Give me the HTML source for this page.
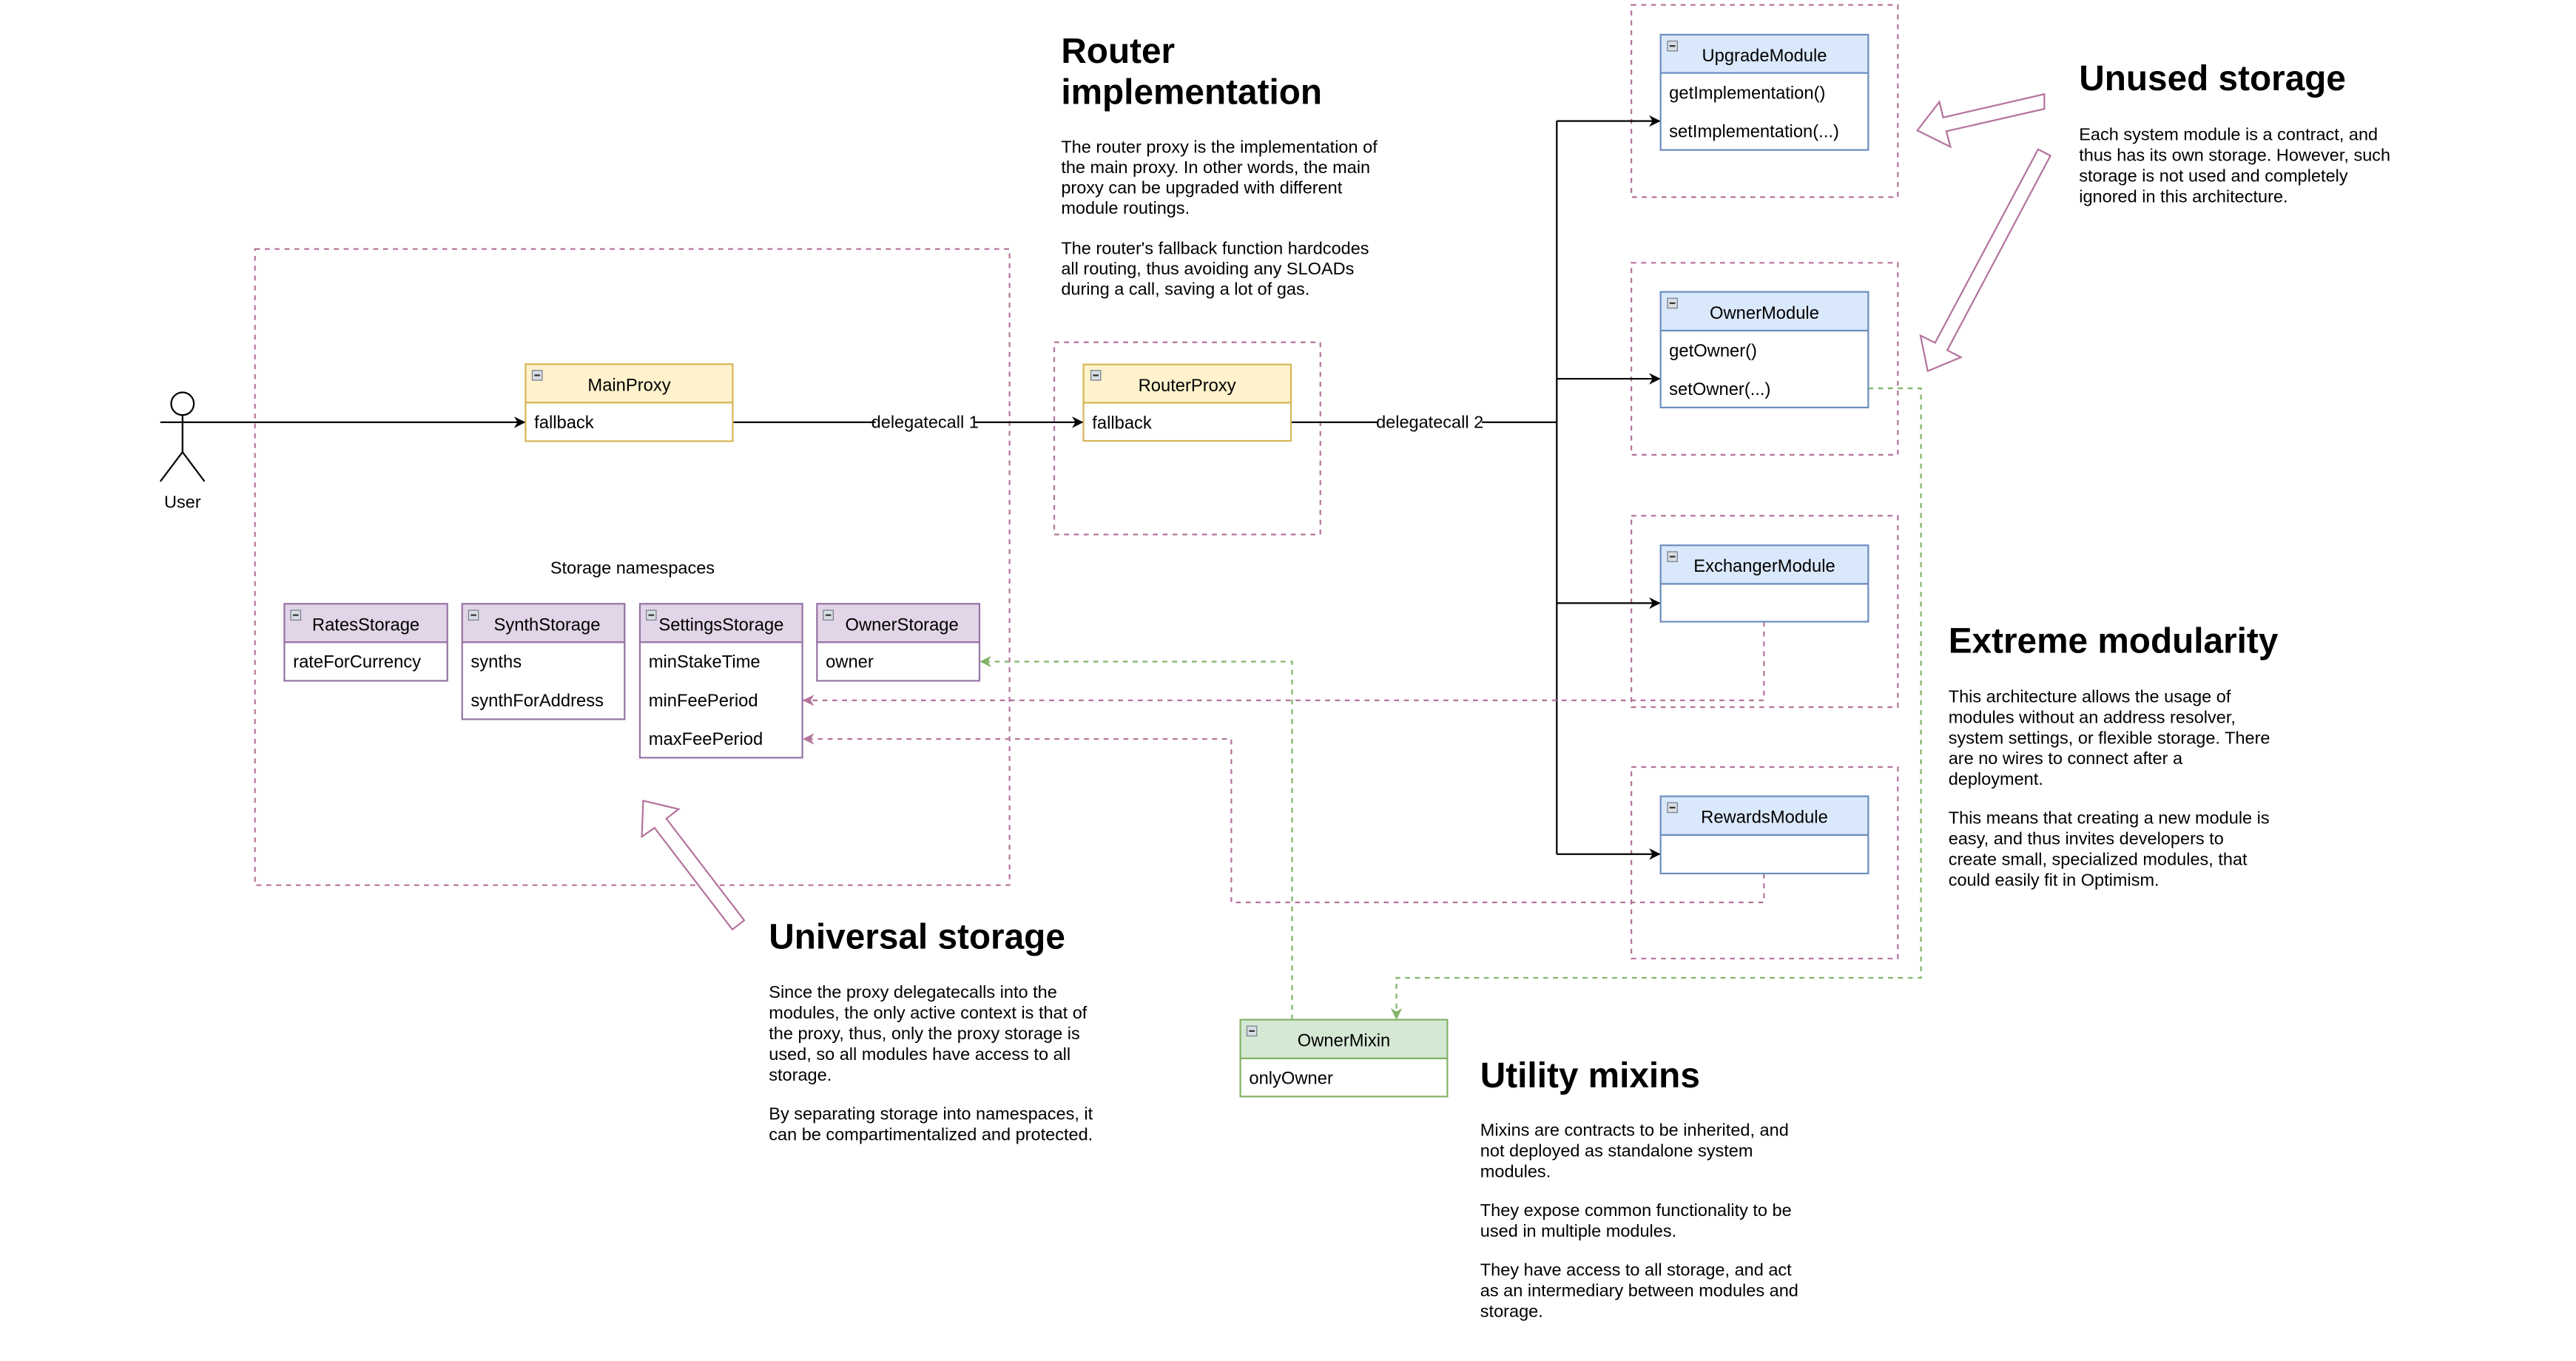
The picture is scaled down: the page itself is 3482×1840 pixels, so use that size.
<!DOCTYPE html>
<html><head><meta charset="utf-8"><style>
html,body{margin:0;padding:0;background:#fff;}
svg{display:block;}
text{font-family:"Liberation Sans",Arial,sans-serif;fill:#000;}
.t{font-size:10.7px;}
.c{text-anchor:middle;}
.p{font-size:10.6px;}
.h{font-size:21.5px;font-weight:bold;}
.dp{fill:none;stroke:#b5739d;stroke-width:1;stroke-dasharray:3 3;}
.dg{fill:none;stroke:#82b366;stroke-width:1;stroke-dasharray:3 3;}
.bl{fill:none;stroke:#000;stroke-width:1;}
</style></head><body>
<svg width="3482" height="1840" viewBox="0 0 1568 828.6" preserveAspectRatio="none" xmlns="http://www.w3.org/2000/svg">
<defs>
<marker id="ab" viewBox="0 0 10 10" refX="10" refY="5" markerWidth="7" markerHeight="7" markerUnits="userSpaceOnUse" orient="auto"><path d="M0,0 L10,5 L0,10 L3,5 Z" fill="#000"/></marker>
<marker id="ag" viewBox="0 0 10 10" refX="10" refY="5" markerWidth="7" markerHeight="7" markerUnits="userSpaceOnUse" orient="auto"><path d="M0,0 L10,5 L0,10 L3,5 Z" fill="#82b366"/></marker>
<marker id="ap" viewBox="0 0 10 10" refX="10" refY="5" markerWidth="7" markerHeight="7" markerUnits="userSpaceOnUse" orient="auto"><path d="M0,0 L10,5 L0,10 L3,5 Z" fill="#b5739d"/></marker>
<g id="ic"><rect x="0" y="0" width="6" height="6" fill="#d8dde3" stroke="#7d8590" stroke-width="0.6"/><line x1="1.3" y1="3" x2="4.7" y2="3" stroke="#333" stroke-width="1"/></g>
</defs>

<rect class="dp" x="155.2" y="151.6" width="459.3" height="387.3"/>
<rect class="dp" x="641.7" y="208.4" width="162" height="117"/>
<rect class="dp" x="993" y="3" width="162.2" height="117"/>
<rect class="dp" x="993" y="160" width="162.2" height="116.9"/>
<rect class="dp" x="993" y="314" width="162.2" height="116.5"/>
<rect class="dp" x="993" y="467" width="162.2" height="116.6"/>

<line class="bl" x1="97.6" y1="257.1" x2="319.9" y2="257.1" marker-end="url(#ab)"/>
<line class="bl" x1="446" y1="257.1" x2="659.5" y2="257.1" marker-end="url(#ab)"/>
<rect x="533" y="251" width="60" height="12" fill="#fff"/>
<text class="p c" x="563" y="260.5">delegatecall 1</text>
<polyline class="bl" points="785.8,257.1 947.6,257.1"/>
<rect x="839" y="251" width="63" height="12" fill="#fff"/>
<text class="p c" x="870.3" y="260.5">delegatecall 2</text>
<line class="bl" x1="947.6" y1="73.7" x2="947.6" y2="520"/>
<line class="bl" x1="947.6" y1="73.7" x2="1010.8" y2="73.7" marker-end="url(#ab)"/>
<line class="bl" x1="947.6" y1="230.6" x2="1010.8" y2="230.6" marker-end="url(#ab)"/>
<line class="bl" x1="947.6" y1="367.2" x2="1010.8" y2="367.2" marker-end="url(#ab)"/>
<line class="bl" x1="947.6" y1="520" x2="1010.8" y2="520" marker-end="url(#ab)"/>

<polyline class="dg" points="1137.2,236.4 1169.3,236.4 1169.3,595.3 850,595.3 850,620.8" marker-end="url(#ag)"/>
<polyline class="dg" points="786.5,620.8 786.5,402.8 596.4,402.8" marker-end="url(#ag)"/>
<polyline class="dp" points="1073.7,378.5 1073.7,426.4 488.6,426.4" marker-end="url(#ap)"/>
<polyline class="dp" points="1073.7,531.8 1073.7,549.4 749.5,549.4 749.5,449.9 488.6,449.9" marker-end="url(#ap)"/>

<circle cx="111.1" cy="245.8" r="6.9" fill="#fff" stroke="#000" stroke-width="1"/>
<line class="bl" x1="111.1" y1="252.7" x2="111.1" y2="275.2"/>
<line class="bl" x1="97.6" y1="293.1" x2="111.1" y2="275.2"/>
<line class="bl" x1="124.5" y1="293.1" x2="111.1" y2="275.2"/>
<text class="p c" x="111.1" y="309.2">User</text>

<rect x="319.9" y="221.7" width="126.1" height="23.4" fill="#fff2cc" stroke="#d6b656"/>
<rect x="319.9" y="245.1" width="126.1" height="23.5" fill="#fff" stroke="#d6b656"/>
<use href="#ic" x="324" y="225.5"/>
<text class="t c" x="383" y="238">MainProxy</text>
<text class="t" x="325.2" y="260.8">fallback</text>

<rect x="659.5" y="221.9" width="126.3" height="23.3" fill="#fff2cc" stroke="#d6b656"/>
<rect x="659.5" y="245.2" width="126.3" height="23.2" fill="#fff" stroke="#d6b656"/>
<use href="#ic" x="664" y="225.5"/>
<text class="t c" x="722.6" y="238.2">RouterProxy</text>
<text class="t" x="664.8" y="260.9">fallback</text>

<rect x="1010.8" y="21.1" width="126.4" height="23.3" fill="#dae8fc" stroke="#6c8ebf"/>
<rect x="1010.8" y="44.4" width="126.4" height="46.9" fill="#fff" stroke="#6c8ebf"/>
<use href="#ic" x="1015" y="25"/>
<text class="t c" x="1074" y="37.3">UpgradeModule</text>
<text class="t" x="1016" y="60.2">getImplementation()</text>
<text class="t" x="1016" y="83.6">setImplementation(...)</text>

<rect x="1010.8" y="177.7" width="126.4" height="23.6" fill="#dae8fc" stroke="#6c8ebf"/>
<rect x="1010.8" y="201.3" width="126.4" height="46.8" fill="#fff" stroke="#6c8ebf"/>
<use href="#ic" x="1015" y="181.6"/>
<text class="t c" x="1074" y="194">OwnerModule</text>
<text class="t" x="1016" y="217">getOwner()</text>
<text class="t" x="1016" y="240.4">setOwner(...)</text>

<rect x="1010.8" y="332" width="126.4" height="23.5" fill="#dae8fc" stroke="#6c8ebf"/>
<rect x="1010.8" y="355.5" width="126.4" height="23" fill="#fff" stroke="#6c8ebf"/>
<use href="#ic" x="1015" y="335.9"/>
<text class="t c" x="1074" y="348.2">ExchangerModule</text>

<rect x="1010.8" y="484.8" width="126.4" height="23.6" fill="#dae8fc" stroke="#6c8ebf"/>
<rect x="1010.8" y="508.4" width="126.4" height="23.4" fill="#fff" stroke="#6c8ebf"/>
<use href="#ic" x="1015" y="488.7"/>
<text class="t c" x="1074" y="501.1">RewardsModule</text>

<text class="p c" x="385" y="349.2">Storage namespaces</text>

<rect x="173.1" y="367.6" width="99.2" height="23.4" fill="#e1d5e7" stroke="#9673a6"/>
<rect x="173.1" y="391" width="99.2" height="23.5" fill="#fff" stroke="#9673a6"/>
<use href="#ic" x="177" y="371.5"/>
<text class="t c" x="222.7" y="384">RatesStorage</text>
<text class="t" x="178.4" y="406.5">rateForCurrency</text>

<rect x="281.3" y="367.6" width="98.9" height="23.4" fill="#e1d5e7" stroke="#9673a6"/>
<rect x="281.3" y="391" width="98.9" height="46.9" fill="#fff" stroke="#9673a6"/>
<use href="#ic" x="285.2" y="371.5"/>
<text class="t c" x="333" y="384">SynthStorage</text>
<text class="t" x="286.6" y="406.5">synths</text>
<text class="t" x="286.6" y="430">synthForAddress</text>

<rect x="389.5" y="367.6" width="98.9" height="23.4" fill="#e1d5e7" stroke="#9673a6"/>
<rect x="389.5" y="391" width="98.9" height="70.3" fill="#fff" stroke="#9673a6"/>
<use href="#ic" x="393.4" y="371.5"/>
<text class="t c" x="439" y="384">SettingsStorage</text>
<text class="t" x="394.8" y="406.5">minStakeTime</text>
<text class="t" x="394.8" y="430">minFeePeriod</text>
<text class="t" x="394.8" y="453.4">maxFeePeriod</text>

<rect x="497.3" y="367.6" width="98.9" height="23.4" fill="#e1d5e7" stroke="#9673a6"/>
<rect x="497.3" y="391" width="98.9" height="23.5" fill="#fff" stroke="#9673a6"/>
<use href="#ic" x="501.2" y="371.5"/>
<text class="t c" x="549" y="384">OwnerStorage</text>
<text class="t" x="502.6" y="406.5">owner</text>

<rect x="755" y="620.8" width="126" height="23.6" fill="#d5e8d4" stroke="#82b366"/>
<rect x="755" y="644.4" width="126" height="23.2" fill="#fff" stroke="#82b366"/>
<use href="#ic" x="759" y="624.7"/>
<text class="t c" x="818" y="637">OwnerMixin</text>
<text class="t" x="760.3" y="660">onlyOwner</text>

<polygon points="1244.4,57.3 1182.8,71.5 1180.5,62 1167.1,79.4 1187.2,89.4 1184.7,79.9 1244.4,66.3" fill="#fff" stroke="#b5739d" stroke-width="1"/>
<polygon points="1240.6,90.9 1248.1,94.8 1185.3,213.2 1193.6,217.5 1173.4,225.9 1169,204.3 1177.9,208.7" fill="#fff" stroke="#b5739d" stroke-width="1"/>
<polygon points="391.5,487.5 413.1,492.6 405.6,498.4 453,560.3 445.8,565.9 398.4,504 390.7,509.4" fill="#fff" stroke="#b5739d" stroke-width="1"/>

<text class="h" x="645.9" y="38.2">Router</text>
<text class="h" x="645.9" y="63.3">implementation</text>
<text class="p" x="645.9" y="92.9"><tspan x="645.9">The router proxy is the implementation of</tspan><tspan x="645.9" dy="12.4">the main proxy. In other words, the main</tspan><tspan x="645.9" dy="12.4">proxy can be upgraded with different</tspan><tspan x="645.9" dy="12.4">module routings.</tspan><tspan x="645.9" dy="24.6">The router's fallback function hardcodes</tspan><tspan x="645.9" dy="12.4">all routing, thus avoiding any SLOADs</tspan><tspan x="645.9" dy="12.4">during a call, saving a lot of gas.</tspan></text>

<text class="h" x="1265.5" y="55">Unused storage</text>
<text class="p" x="1265.5" y="85.3"><tspan x="1265.5">Each system module is a contract, and</tspan><tspan x="1265.5" dy="12.6">thus has its own storage. However, such</tspan><tspan x="1265.5" dy="12.6">storage is not used and completely</tspan><tspan x="1265.5" dy="12.6">ignored in this architecture.</tspan></text>

<text class="h" x="1186" y="397.5">Extreme modularity</text>
<text class="p" x="1186" y="427.5"><tspan x="1186">This architecture allows the usage of</tspan><tspan x="1186" dy="12.6">modules without an address resolver,</tspan><tspan x="1186" dy="12.6">system settings, or flexible storage. There</tspan><tspan x="1186" dy="12.6">are no wires to connect after a</tspan><tspan x="1186" dy="12.6">deployment.</tspan><tspan x="1186" dy="23.6">This means that creating a new module is</tspan><tspan x="1186" dy="12.6">easy, and thus invites developers to</tspan><tspan x="1186" dy="12.6">create small, specialized modules, that</tspan><tspan x="1186" dy="12.6">could easily fit in Optimism.</tspan></text>

<text class="h" x="468" y="577.5">Universal storage</text>
<text class="p" x="468" y="607.5"><tspan x="468">Since the proxy delegatecalls into the</tspan><tspan x="468" dy="12.6">modules, the only active context is that of</tspan><tspan x="468" dy="12.6">the proxy, thus, only the proxy storage is</tspan><tspan x="468" dy="12.6">used, so all modules have access to all</tspan><tspan x="468" dy="12.6">storage.</tspan><tspan x="468" dy="23.6">By separating storage into namespaces, it</tspan><tspan x="468" dy="12.6">can be compartimentalized and protected.</tspan></text>

<text class="h" x="901" y="662">Utility mixins</text>
<text class="p" x="901" y="691.5"><tspan x="901">Mixins are contracts to be inherited, and</tspan><tspan x="901" dy="12.6">not deployed as standalone system</tspan><tspan x="901" dy="12.6">modules.</tspan><tspan x="901" dy="23.6">They expose common functionality to be</tspan><tspan x="901" dy="12.6">used in multiple modules.</tspan><tspan x="901" dy="23.6">They have access to all storage, and act</tspan><tspan x="901" dy="12.6">as an intermediary between modules and</tspan><tspan x="901" dy="12.6">storage.</tspan></text>
</svg>
</body></html>
